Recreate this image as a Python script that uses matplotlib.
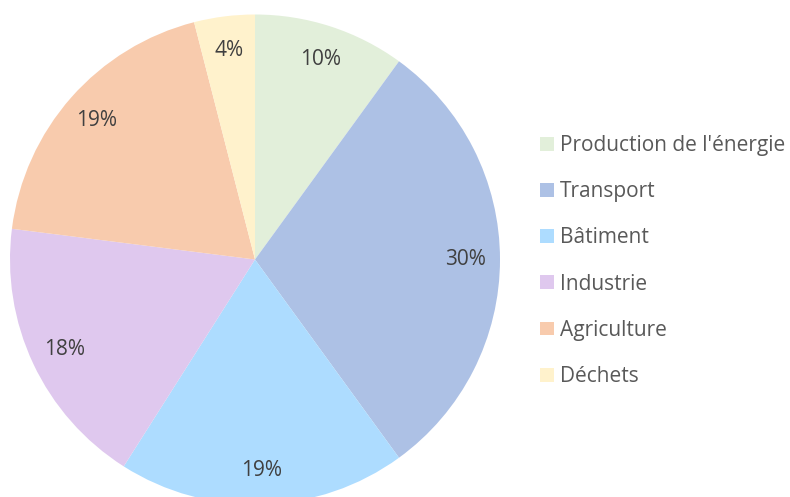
import matplotlib.pyplot as plt
from matplotlib.patches import Patch

# data
sectors = ["Production de l'énergie", "Transport", "Bâtiment", "Industrie", "Agriculture", "Déchets"]
shares = [10, 30, 19, 18, 19, 4]
colors = ["#E2EFDA", "#ADC1E5", "#ADDCFF", "#DFC8EE", "#F8CBAD", "#FFF2CC"]

plt.rcParams['font.family'] = ['Open Sans', 'DejaVu Sans']

fig = plt.figure(figsize=(7.9, 4.97), dpi=100)

# pie centre ~ (255, 259) px, radius ~245 px, slightly cut at the bottom
W, H = 790, 497
cx, cy, r = 255, 259.5, 245
ax = fig.add_axes([(cx - r) / W, (H - cy - r) / H, 2 * r / W, 2 * r / H])

wedges, texts, autotexts = ax.pie(shares, colors=colors, startangle=90, counterclock=False,
                                  autopct='%1.0f%%', pctdistance=0.86,
                                  wedgeprops=dict(linewidth=0),
                                  textprops=dict(color="#404040", fontsize=15))
ax.set_xlim(-1, 1)
ax.set_ylim(-1, 1)
ax.set_aspect('equal')
ax.axis('off')

handles = [Patch(facecolor=c, edgecolor='none') for c in colors]
fig.legend(handles, sectors, loc='upper left', bbox_to_anchor=(540 / W, 1 - 135 / H),
           frameon=False, fontsize=15, labelcolor="#595959",
           handlelength=0.65, handleheight=0.65, handletextpad=0.3,
           labelspacing=1.21, borderaxespad=0, borderpad=0)

plt.savefig("out.png", dpi=100)
